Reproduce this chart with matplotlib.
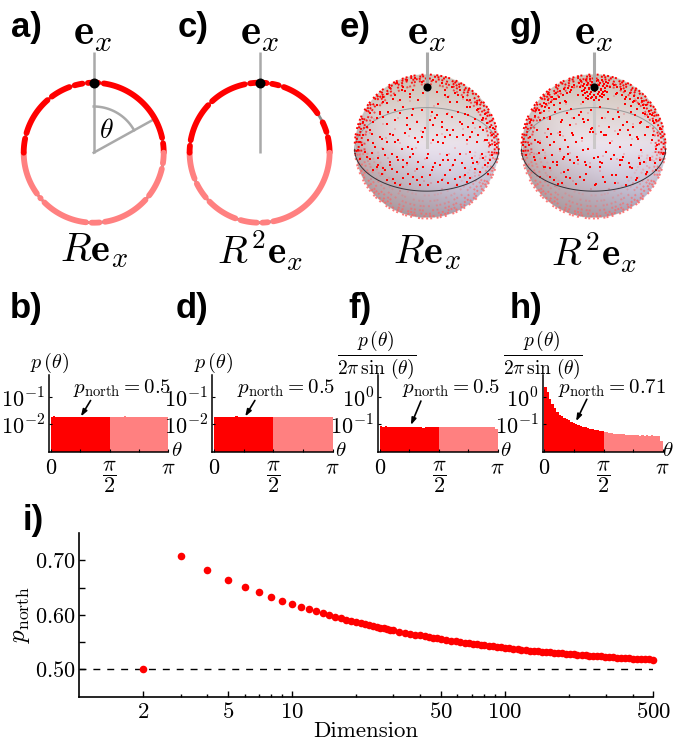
import matplotlib
matplotlib.use("Agg")
import matplotlib.pyplot as plt
from matplotlib.ticker import FixedLocator, NullFormatter
import numpy as np

plt.rcParams["mathtext.fontset"] = "cm"
plt.rcParams["font.family"] = "cmr10"
plt.rcParams["axes.formatter.use_mathtext"] = True

W, H = 673, 742
RED = "#ff0000"
PINK = "#ff8080"
GREY = "#a9a9a9"

# small gaps in the coloured ring, degrees clockwise from e_x
ring_gaps_a = [6, 80, 101, 130, 173, 184, 227, 232, 284, 321, 342, 353]
ring_gaps_c = [8, 18, 60, 75, 171, 180, 198, 228, 246, 278, 315, 350]
ring_gap_width_c = [1, 1, 5, 1, 1, 1, 1, 1, 1, 1, 1, 1]

sphere_e_x = [-65, -50, -75, -100, -120, -130, -25, 35, 55, 70, 95, 120, 130, 155, 175, -95, -70, -40, -15, 15, 32, 60, 95, 115, 145, 165, 190, -140, -160, -180, -120, -60, -50, 10, 20, 45, 60, 70, 105, 125, 135, 170, 195, -110, -135, -165, -190, -200, -95, -55, -45, -25, -15, 20, 35, 55, 90, 120, 150, 180, 205, -205, -185, -155, -130, -105, -75, -40, 5, 50, 65, 100, 130, 165, 195, -200, -170, -145, -125, -105, -85, -70, -55, -30, -15, 15, 40, 70, 85, 115, 145, 175, 185, 190, -160, -135, -100, -80, -50, -20, 10, 45, 90, 120]
sphere_e_y = [167, 159, 169, 144, 159, 134, 139, 129, 154, 134, 154, 139, 119, 114, 99, 109, 119, 114, 109, 104, 94, 99, 104, 99, 84, 79, 59, 99, 74, 59, 69, 64, 54, 79, 64, 74, 49, 34, 69, 59, 44, 49, 34, 39, 24, 39, 34, 14, 14, -1, -6, 14, 29, 19, 14, 29, 29, 19, 14, 19, 4, -11, -16, -1, -6, -21, -6, -21, -21, -41, -39, -21, -16, -21, -26, -36, -36, -56, -71, -66, -41, -61, -81, -66, -91, -71, -56, -71, -96, -86, -66, -56, -81, -41, -71, -81, -96, -116, -111, -116, -86, -101, -116, -106]
sphere_e_cap_x = [-90, -60, -35, -15, 20, 45, 75, 100, -110, -70, -40, 10, 30, 55, 85, 110, -130, -95, -50, -10, 65, 130, 150, -150, -120, -80, 90, 120, -170, -140, 150, 170]
sphere_e_cap_y = [190, 200, 205, 195, 200, 190, 180, 170, 175, 180, 170, 175, 165, 170, 160, 150, 150, 155, 150, 160, 150, 140, 130, 125, 130, 140, 135, 120, 100, 105, 110, 85]
sphere_g_x = [-137, -112, -82, -47, -67, -32, 43, 68, 93, 118, 148, 168, -172, -147, -102, -67, -37, -7, 18, 43, 73, 113, 153, 188, -187, -162, -132, -97, -72, -32, -17, 23, 58, 88, 118, 143, 163, 198, -192, -137, -127, -102, -62, -52, -7, -2, 38, 73, 103, 133, 178, -212, -202, -167, -152, -132, -102, -77, -32, -17, 13, 38, 78, 88, 113, 143, 188, 208, -177, -147, -122, -92, -77, -47, -22, 18, 53, 78, 108, 138, 168, 198, -132, -107, -82, -77, -52, -22, 8, 28, 68, 98, 128, 158, 188, -162]
sphere_g_y = [159, 144, 134, 154, 169, 134, 144, 159, 144, 134, 124, 99, 109, 119, 114, 114, 104, 109, 119, 104, 104, 104, 99, 79, 79, 79, 84, 74, 64, 84, 79, 44, 84, 64, 59, 74, 59, 54, 29, 54, 39, 44, 34, 14, 54, 44, 34, 39, 49, 24, 34, 4, -26, 14, -11, 4, -6, -1, -11, -6, -31, -16, -1, -31, 4, -11, -6, -21, -41, -61, -46, -36, -21, -41, -56, -46, -36, -41, -61, -51, -41, -41, -91, -111, -91, -71, -111, -81, -111, -91, -86, -116, -101, -81, -71, -91]
sphere_g_cap_x = [-45, -38, -30, -24, -18, -12, -6, 0, 6, 12, 18, 24, 30, 36, 44, -40, -33, -27, -20, -14, -8, -2, 4, 10, 16, 22, 28, 34, 41, 48, -36, -28, -21, -15, -9, -3, 3, 9, 15, 21, 27, 33, 39, -32, -25, -18, -11, -5, 2, 8, 14, 20, 26, 32, -24, -16, -8, 0, 8, 16, 24,
                  -150, -138, -125, -112, -100, -90, -78, -66, -58, 60, 70, 82, 95, 108, 120, 132, 146, 158, -165, -155, -142, -128, -118, -105, -92, -80, -70, 70, 84, 96, 110, 122, 136, 150, 165, 175, -175, -160, -148, -135, -120, -100, -85, 95, 112, 130, 148, 162, 178]
sphere_g_cap_y = [190, 196, 188, 199, 192, 203, 194, 206, 196, 201, 192, 199, 187, 195, 190, 178, 182, 175, 184, 177, 186, 172, 183, 176, 186, 174, 181, 176, 183, 178, 166, 170, 163, 172, 165, 175, 166, 172, 163, 170, 164, 168, 165, 156, 160, 152, 158, 150, 155, 148, 157, 152, 159, 154, 145, 142, 147, 140, 146, 141, 148,
                  130, 140, 150, 160, 168, 172, 176, 180, 186, 184, 178, 174, 168, 162, 152, 146, 136, 124, 110, 122, 128, 135, 142, 150, 155, 160, 165, 162, 154, 150, 144, 136, 128, 116, 106, 96, 92, 100, 108, 116, 124, 130, 136, 128, 122, 112, 102, 90, 78]
sphere_mid_x = [-190, -170, -150, -130, -115, -95, -80, -60, -45, -30, -5, 25, 45, 75, 100, 125, 140, 160, 180, 200,
                -195, -175, -160, -140, -120, -100, -85, -65, -35, -10, 30, 50, 80, 110, 130, 155, 175, 190,
                -180, -165, -145, -125, -110, -90, -70, -50, -25, 0, 25, 60, 85, 105, 135, 150, 170, 185,
                -150, -130, -110, -90, -60, -40, -10, 20, 55, 80, 115, 140, 160,
                -120, -95, -70, -30, 5, 35, 65, 100, 130]
sphere_mid_y = [75, 50, 85, 90, 105, 80, 100, 85, 95, 75, 55, 85, 60, 90, 75, 95, 70, 60, 70, 55,
                5, 20, 10, 30, 15, 35, 20, 40, 25, 45, 35, 10, 50, 35, 30, 35, 20, 5,
                -30, -20, -35, -25, -45, -30, -40, -30, -45, -35, -50, -25, -40, -50, -35, -45, -35, -50,
                -60, -65, -55, -75, -50, -90, -60, -60, -85, -55, -65, -50, -75,
                -100, -110, -95, -100, -115, -105, -110, -90, -95]

# histograms, 50 bins from 0 to pi
hist_b = [.0190, .0196, .0193, .0191, .0193, .0192, .0190, .0193, .0191, .0192, .0190, .0191, .0189, .0192, .0191, .0193, .0190, .0193, .0192, .0191, .0193, .0192, .0191, .0193, .0192, .0190, .0192, .0193, .0191, .0189, .0192, .0197, .0192, .0190, .0191, .0193, .0190, .0192, .0191, .0190, .0193, .0191, .0192, .0190, .0191, .0193, .0192, .0190, .0192, .0190]
hist_d = [.0191, .0193, .0192, .0191, .0194, .0192, .0193, .0191, .0193, .0195, .0192, .0194, .0193, .0192, .0193, .0191, .0192, .0193, .0191, .0192, .0193, .0192, .0194, .0191, .0192, .0190, .0191, .0192, .0190, .0191, .0192, .0190, .0191, .0192, .0190, .0191, .0190, .0192, .0191, .0190, .0192, .0190, .0191, .0190, .0192, .0191, .0190, .0192, .0190, .0190]
hist_f = [.083, .078, .090, .082, .078, .079, .080, .079, .078, .079, .078, .077, .078, .079, .077, .078, .077, .078, .076, .077, .078, .079, .078, .079, .078, .078, .077, .079, .078, .079, .080, .078, .079, .082, .078, .079, .080, .079, .078, .077, .079, .078, .080, .079, .078, .079, .080, .081, .079, .069]
hist_h = [2.48, 1.62, .865, .55, .39, .277, .221, .197, .176, .157, .140, .125, .112, .100, .094, .0865, .0817, .0772, .0729, .0689, .0651, .0632, .0598, .0581, .055, .0519, .0504, .0476, .0463, .045, .045, .0437, .0425, .0425, .0413, .0402, .0402, .0402, .039, .039, .0379, .039, .0379, .0402, .0369, .039, .0369, .0379, .0369, .0248]

# p_north against dimension
dims = [2, 3, 4, 5, 6, 7, 8, 9, 10, 11, 12, 13, 14, 15, 16, 17, 18, 19, 20, 21, 22, 23, 24, 25, 26, 27, 28, 29, 30, 32, 34, 36, 38, 40, 42, 44, 46, 48, 50, 53, 56, 59, 62, 65, 68, 71, 74, 77, 80, 84, 88, 92, 96, 100, 105, 110, 115, 120, 126, 132, 138, 144, 150, 157, 164, 171, 178, 186, 194, 202, 211, 220, 230, 240, 250, 260, 272, 284, 296, 310, 324, 338, 352, 368, 384, 400, 418, 436, 456, 478, 500]
p_north = [.5000, .7070, .6820, .6640, .6510, .6410, .6320, .6250, .6195, .6150, .6105, .6065, .6030, .5996, .5966, .5939, .5914, .5891, .5870, .5850, .5832, .5814, .5797, .5782, .5767, .5754, .5740, .5728, .5716, .5694, .5674, .5656, .5638, .5623, .5609, .5595, .5582, .5570, .5558, .5543, .5528, .5515, .5503, .5491, .5480, .5471, .5461, .5452, .5443, .5432, .5423, .5414, .5405, .5397, .5387, .5378, .5370, .5362, .5354, .5346, .5339, .5331, .5325, .5318, .5311, .5305, .5299, .5292, .5286, .5280, .5274, .5269, .5263, .5257, .5252, .5247, .5242, .5237, .5232, .5226, .5221, .5217, .5213, .5208, .5203, .5199, .5195, .5191, .5187, .5182, .5178]

fig = plt.figure(figsize=(W / 100, H / 100), dpi=100)


def px_axes(x0, y0, x1, y1):
    return fig.add_axes([x0 / W, 1 - y1 / H, (x1 - x0) / W, (y1 - y0) / H])


def px_text(x, y, s, **kw):
    kw.setdefault("ha", "center")
    kw.setdefault("va", "center")
    return fig.text(x / W, 1 - y / H, s, **kw)


def ring_panel(cx, cy, gaps, widths=None):
    ax = px_axes(cx - 85, cy - 105, cx + 85, cy + 85)
    ax.set_xlim(-85 / 70, 85 / 70)
    ax.set_ylim(-85 / 70, 105 / 70)
    ax.axis("off")
    t = np.radians(np.linspace(0, 360, 500))
    ax.plot(np.sin(t), np.cos(t), color="#8c8c8c", lw=2.0, zorder=1)
    if widths is None:
        widths = [1] * len(gaps)
    edges = [0]
    for g, w in zip(gaps, widths):
        # the round line caps eat part of the gap
        edges += [g - w / 2 - 1.8, g + w / 2 + 1.8]
    edges.append(360)
    for a0, a1 in zip(edges[::2], edges[1::2]):
        # colour change at the equator
        for lo, hi, col in [(a0, min(a1, 90), RED), (max(a0, 90), min(a1, 270), PINK), (max(a0, 270), a1, RED)]:
            if hi > lo:
                t = np.radians(np.linspace(lo, hi, 40))
                ax.plot(np.sin(t), np.cos(t), color=col, lw=4.2, solid_capstyle="round", zorder=2)
    ax.plot([0, 0], [0, 1.44], color=GREY, lw=1.8, solid_capstyle="butt", zorder=3)
    ax.scatter([0], [1], s=52, color="black", zorder=4, linewidths=0)
    return ax


ax_a = ring_panel(93.7, 152.7, ring_gaps_a)
theta_end = np.radians(61)
ax_a.plot([0, np.sin(theta_end)], [0, np.cos(theta_end)], color=GREY, lw=1.8, zorder=1.5)
t = np.linspace(0, theta_end, 40)
ax_a.plot(0.66 * np.sin(t), 0.66 * np.cos(t), color=GREY, lw=1.8, zorder=1.5)
ring_panel(259.6, 152.7, ring_gaps_c, ring_gap_width_c)


def dotted_arc(ax, r, a0, a1, col, pattern, alpha=1.0, lw=1.4):
    t = np.radians(np.linspace(a0, a1, 300))
    ax.plot(r * np.cos(t), r * np.sin(t), color=col, lw=lw, alpha=alpha, ls=(0, pattern), dash_capstyle="butt", zorder=3)


patterns = [(1, 1.1, 1, 2.3, 1, .6, 1, 1.7, 1, 3.1, 1, .8, 1, 1.4),
            (1, 1.9, 1, .8, 1, 2.9, 1, 1.2, 1, .5, 1, 3.7),
            (1, .7, 1, 2.6, 1, 1.5, 1, .9, 1, 3.6, 1, 1.1, 1, 2.1, 1, .6),
            (1, 3.2, 1, .9, 1, 1.6, 1, .5, 1, 4.3, 1, 1.3)]


def sphere_panel(cx, cy, xs, ys, cap_x, cap_y):
    ax = px_axes(cx - 80, cy - 94.5, cx + 80, cy + 80)
    # soft shading of the ball
    u = np.linspace(-1, 1, 300)
    X, Y = np.meshgrid(u, u)
    rr = X ** 2 + Y ** 2
    Z = np.sqrt(np.clip(1 - rr, 0, 1))
    top = np.array([.85, .80, .76])
    mid = np.array([.93, .90, .94])
    low = np.array([.72, .70, .80])
    k = np.clip((Y + 0.05) / 0.85, 0, 1)[..., None]
    m = np.clip((-Y + 0.05) / 0.95, 0, 1)[..., None]
    rgb = mid * (1 - k) + top * k
    rgb = rgb * (1 - m) + low * m
    brown = np.array([.70, .60, .58])
    w = np.clip((-Y - 0.1 - X * 0.9) * 0.8, 0, 0.7)[..., None] * (1 - Z[..., None] * 0.4)
    rgb = rgb * (1 - w) + brown * w
    rgb = rgb * (0.9 + 0.1 * Z[..., None] ** 0.5)
    alpha = np.where(rr <= 1, 1.0, 0.0)
    img = np.dstack([np.clip(rgb, 0, 1), alpha])
    ax.imshow(img, extent=(-1, 1, -1, 1), origin="lower", zorder=1, interpolation="bilinear")
    ax.set_xlim(-80 / 72, 80 / 72)
    ax.set_ylim(-80 / 72, 94.5 / 72)
    ax.axis("off")
    # faint axis and back of the equator
    ax.plot([0, 0], [0, 0.83], color="#cbc8c8", lw=2.2, zorder=2)
    t = np.linspace(0, np.pi, 120)
    ax.plot(np.cos(t), -0.04 + 0.58 * np.sin(t), color="#989898", lw=0.7, zorder=2)
    # rim, dense dots seen edge-on
    for r, p, al in [(1.0, 0, 1), (.975, 1, 1), (.945, 2, .95), (.91, 3, .85), (.865, 1, .6)]:
        dotted_arc(ax, r, -6, 186, RED, patterns[p], al)
    for r, p, al in [(1.0, 0, .85), (.97, 1, .8), (.935, 2, .7), (.89, 3, .6), (.83, 0, .45), (.76, 1, .3), (.68, 2, .2)]:
        dotted_arc(ax, r, 186, 354, "#ff6262", patterns[p], al)
    ax.scatter(np.array(xs) / 216, np.array(ys) / 216, s=4.5, marker="s", color=RED, linewidths=0, zorder=4)
    ax.scatter(np.array(cap_x) / 216, np.array(cap_y) / 216, s=4.5, marker="s", color=RED, linewidths=0, zorder=4)
    ax.scatter(np.array(sphere_mid_x) / 216, np.array(sphere_mid_y) / 216, s=4.5, marker="s", color=RED, linewidths=0, zorder=4)
    # mirrored faint dots on the far side
    ax.scatter(-np.array(xs[::2]) / 216 * 0.9, np.array(ys[::2]) / 216 - 0.08, s=4, marker="s", color=RED, alpha=.16, linewidths=0, zorder=2.5)
    t = np.linspace(np.pi, 2 * np.pi, 120)
    ax.plot(np.cos(t), -0.04 + 0.58 * np.sin(t), color="#33333a", lw=0.7, zorder=5)
    ax.plot([0, 0], [0.83, 1.31], color=GREY, lw=2.2, solid_capstyle="butt", zorder=6)
    ax.scatter([0], [0.83], s=34, color="black", zorder=7, linewidths=0)


sphere_panel(426.7, 146.5, sphere_e_x, sphere_e_y, sphere_e_cap_x, sphere_e_cap_y)
sphere_panel(593.5, 146.5, sphere_g_x, sphere_g_y, sphere_g_cap_x, sphere_g_cap_y)


def hist_panel(spine, zero, pi_x, values, lo_exp, labels):
    ax = px_axes(spine, 375, pi_x, 452.3)
    per = (pi_x - zero) / np.pi
    ax.set_xlim(-(zero - spine) / per, np.pi)
    ax.set_yscale("log")
    ax.set_ylim(10.0 ** (lo_exp - 0.037), 10.0 ** (lo_exp + 2.826))
    edges = np.linspace(0, np.pi, len(values) + 1)
    cols = [RED] * (len(values) // 2) + [PINK] * (len(values) // 2)
    ax.bar(edges[:-1], values, width=edges[1] - edges[0], align="edge", color=cols, linewidth=0, zorder=1)
    for s in ["top", "right"]:
        ax.spines[s].set_visible(False)
    ax.spines["left"].set_linewidth(1.1)
    ax.spines["bottom"].set_linewidth(1.1)
    ax.spines["bottom"].set_zorder(3)
    ax.set_xticks([0, np.pi / 4, np.pi / 2, 3 * np.pi / 4, np.pi])
    ax.set_xticklabels(["$0$", "", r"$\dfrac{\pi}{2}$", "", r"$\pi$"], fontsize=16)
    ax.xaxis.set_tick_params(direction="in", length=2.5, width=.8, pad=4.5)
    ax.yaxis.set_major_locator(FixedLocator([10.0 ** (lo_exp + 1), 10.0 ** (lo_exp + 2)]))
    ax.yaxis.set_minor_locator(FixedLocator([]))
    ax.set_yticklabels(labels, fontsize=16)
    ax.yaxis.set_tick_params(direction="in", length=2.5, width=.8, pad=3)
    ax.patch.set_alpha(0)
    px_text(min(pi_x + 8, 667.5), 451, r"$\theta$", fontsize=15)
    return ax


ax_b = hist_panel(49, 50.7, 168.3, hist_b, -3, [r"$10^{-2}$", r"$10^{-1}$"])
ax_d = hist_panel(212, 214, 332.7, hist_d, -3, [r"$10^{-2}$", r"$10^{-1}$"])
ax_f = hist_panel(378.3, 380, 497.7, hist_f, -2, [r"$10^{-1}$", r"$10^{0}$"])
ax_h = hist_panel(542.7, 544.3, 662.7, hist_h, -2, [r"$10^{-1}$", r"$10^{0}$"])

arrow = dict(arrowstyle="-|>,head_width=0.14,head_length=0.4", color="black", lw=1.2, shrinkA=0, shrinkB=0)
for ax, val, dist, offs, txt_x, txt in [
    (ax_b, .0195, 30.3, (9.7, 16), 122, r"$p_{\mathrm{north}}=0.5$"),
    (ax_d, .0195, 31, (9.7, 16), 286, r"$p_{\mathrm{north}}=0.5$"),
    (ax_f, .094, 31, (10, 24), 451, r"$p_{\mathrm{north}}=0.5$"),
    (ax_h, .13, 31.7, (10.7, 22), 612, r"$p_{\mathrm{north}}=0.71$"),
]:
    ax.annotate("", xy=(np.pi * dist / 118, val), xytext=offs, textcoords="offset pixels", arrowprops=arrow, annotation_clip=False)
    px_text(txt_x, 388, txt, fontsize=15)

for x in [49, 213]:
    px_text(x, 363, r"$p\,(\theta)$", fontsize=14.5)
for x in [377, 543]:
    px_text(x, 355, r"$\dfrac{p\,(\theta)}{2\pi\,\sin\,(\theta)}$", fontsize=14)

# panel i
ax_i = px_axes(79.3, 533, 653.3, 696.7)
ax_i.set_xscale("log")
ax_i.set_xlim(1, 500)
ax_i.set_ylim(0.45, 0.75)
ax_i.plot([1, 500], [.5, .5], color="black", lw=1.0, ls=(0, (5, 5)), zorder=1)
ax_i.scatter(dims, p_north, s=30, color=RED, linewidths=0, clip_on=False, zorder=3)
for s in ["top", "right"]:
    ax_i.spines[s].set_visible(False)
ax_i.spines["left"].set_linewidth(1.2)
ax_i.spines["bottom"].set_linewidth(1.2)
ax_i.set_xticks([2, 5, 10, 50, 100, 500])
ax_i.set_xticklabels(["$2$", "$5$", "$10$", "$50$", "$100$", "$500$"], fontsize=16.5)
ax_i.xaxis.set_minor_locator(FixedLocator([3, 4, 6, 7, 8, 9, 20, 30, 40, 60, 70, 80, 90, 200, 300, 400]))
ax_i.xaxis.set_minor_formatter(NullFormatter())
ax_i.set_yticks([.5, .55, .6, .65, .7])
ax_i.set_yticklabels(["$0.50$", "", "$0.60$", "", "$0.70$"], fontsize=16)
ax_i.tick_params(axis="x", which="major", direction="in", length=4, width=1, pad=4)
ax_i.tick_params(axis="x", which="minor", direction="in", length=2.2, width=1)
ax_i.tick_params(axis="y", direction="in", length=4, width=1, pad=3)
px_text(366, 731, "Dimension", fontsize=16.5)
px_text(21, 615, r"$p_{\mathrm{north}}$", fontsize=18, rotation=90)

# big labels on the top row
for x in [93, 260, 427, 594]:
    px_text(x, 35, r"$\mathbf{e}_x$", fontsize=31)
for x, y, s in [(94, 251, r"$R\mathbf{e}_x$"), (260, 251, r"$R^2\mathbf{e}_x$"), (427, 253, r"$R\mathbf{e}_x$"), (594, 253, r"$R^2\mathbf{e}_x$")]:
    fs = 29 if "2" not in s else 28
    px_text(x, y, s, fontsize=fs)
px_text(106, 131, r"$\theta$", fontsize=20)

for x, y, s in [(11, 37, "a)"), (178, 37, "c)"), (340, 37, "e)"), (510, 37, "g)"),
                (10, 318, "b)"), (176, 318, "d)"), (348, 318, "f)"), (510, 318, "h)"), (23, 530, "i)")]:
    px_text(x, y, s, fontsize=25, fontweight="bold", family="Liberation Sans", ha="left", va="baseline")

fig.savefig("out.png", dpi=100)
